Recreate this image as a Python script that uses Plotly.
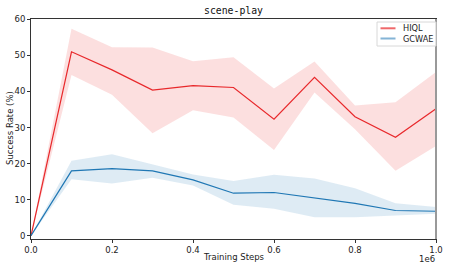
import plotly.graph_objects as go

steps = [0.0, 0.1, 0.2, 0.3, 0.4, 0.5, 0.6, 0.7, 0.8, 0.9, 1.0]

hiql_mean = [0, 51.0, 46.0, 40.4, 41.6, 41.1, 32.3, 43.9, 33.0, 27.3, 35.2]
hiql_upper = [0, 57.4, 52.3, 52.2, 48.4, 49.5, 40.8, 48.3, 36.1, 37.0, 45.4]
hiql_lower = [0, 44.6, 39.1, 28.4, 34.8, 32.8, 23.8, 39.7, 29.5, 18.0, 24.9]

gcwae_mean = [0, 18.0, 18.6, 18.0, 15.5, 11.8, 12.0, 10.4, 9.0, 7.0, 6.8]
gcwae_upper = [0, 20.8, 22.6, 19.9, 17.0, 15.2, 16.9, 15.9, 13.2, 9.0, 8.0]
gcwae_lower = [0, 15.7, 14.5, 16.1, 13.9, 8.6, 7.5, 5.1, 5.1, 5.5, 6.1]

x_ticks = [0.0, 0.2, 0.4, 0.6, 0.8, 1.0]
x_tick_labels = ["0.0", "0.2", "0.4", "0.6", "0.8", "1.0"]
y_ticks = [0, 10, 20, 30, 40, 50, 60]
series_names = ["HIQL", "GCWAE"]

RED = "#e8282b"
BLUE = "#1f77b4"

W, H = 449, 269
L, R, T, B = 31, 13, 19, 30
PW, PH = W - L - R, H - T - B


def px(x):
    return (x - L) / PW


def py(y):
    return (H - B - y) / PH


xs = [s * 1e6 for s in steps]

fig = go.Figure()


def band(upper, lower, fill):
    fig.add_trace(go.Scatter(x=xs + xs[::-1], y=upper + lower[::-1], fill="toself",
                             fillcolor=fill, line=dict(width=0), mode="lines",
                             hoverinfo="skip", showlegend=False))


band(hiql_upper, hiql_lower, "rgba(232,40,43,0.15)")
band(gcwae_upper, gcwae_lower, "rgba(31,119,180,0.15)")

fig.add_trace(go.Scatter(x=xs, y=hiql_mean, mode="lines", name=series_names[0],
                         line=dict(color=RED, width=1.2), showlegend=False))
fig.add_trace(go.Scatter(x=xs, y=gcwae_mean, mode="lines", name=series_names[1],
                         line=dict(color=BLUE, width=1.2), showlegend=False))

axis_font = dict(family="DejaVu Sans", size=8.5, color="#222")

fig.update_layout(
    width=W, height=H,
    margin=dict(l=L, r=R, t=T, b=B),
    paper_bgcolor="white", plot_bgcolor="white",
    showlegend=False,
    xaxis=dict(range=[0, 1e6], tickvals=[t * 1e6 for t in x_ticks], ticktext=x_tick_labels,
               ticks="outside", ticklen=3, tickcolor="#333", showgrid=False, zeroline=False,
               showline=True, linecolor="#333", linewidth=1, mirror=True,
               tickfont=axis_font, automargin=False),
    yaxis=dict(range=[-0.9, 60.1], tickvals=y_ticks, ticks="outside", ticklen=3, tickcolor="#333",
               showgrid=False, zeroline=False, showline=True, linecolor="#333", linewidth=1,
               mirror=True, tickfont=axis_font, automargin=False),
)

# right spine drawn lighter/thicker as in the reference
fig.add_shape(type="line", xref="paper", yref="paper", x0=1, x1=1, y0=0, y1=1,
              line=dict(color="#999", width=2))

# title and axis titles
fig.add_annotation(text="scene-play", xref="paper", yref="paper", x=px(233.5), y=py(11),
                   xanchor="center", yanchor="middle", showarrow=False,
                   font=dict(family="DejaVu Sans Mono", size=9.8, color="#111"))
fig.add_annotation(text="Training Steps", xref="paper", yref="paper", x=px(233.5), y=py(257),
                   xanchor="center", yanchor="middle", showarrow=False, font=axis_font)
fig.add_annotation(text="Success Rate (%)", xref="paper", yref="paper", x=px(10), y=py(128),
                   xanchor="center", yanchor="middle", textangle=-90, showarrow=False,
                   font=axis_font)
fig.add_annotation(text="1e6", xref="paper", yref="paper", x=px(437), y=py(258.5),
                   xanchor="right", yanchor="middle", showarrow=False, font=axis_font)

# legend box
fig.add_shape(type="rect", xref="paper", yref="paper", x0=px(377), x1=px(436), y0=py(46), y1=py(22),
              line=dict(color="#d8d8d8", width=1), fillcolor="rgba(255,255,255,0.85)")
legend_colors = ["rgba(232,40,43,0.7)", "rgba(31,119,180,0.55)"]
legend_rows = [28.3, 38.5]
for name, col, yrow in zip(series_names, legend_colors, legend_rows):
    fig.add_shape(type="line", xref="paper", yref="paper", x0=px(380.5), x1=px(395.5),
                  y0=py(yrow), y1=py(yrow), line=dict(color=col, width=2))
    fig.add_annotation(text=name, xref="paper", yref="paper", x=px(401), y=py(yrow),
                       xanchor="left", yanchor="middle", showarrow=False,
                       font=dict(family="DejaVu Sans", size=8.2, color="#222"))

fig.write_html("out.html", config={"displayModeBar": False},
               post_script="document.body.style.margin='0px';")
